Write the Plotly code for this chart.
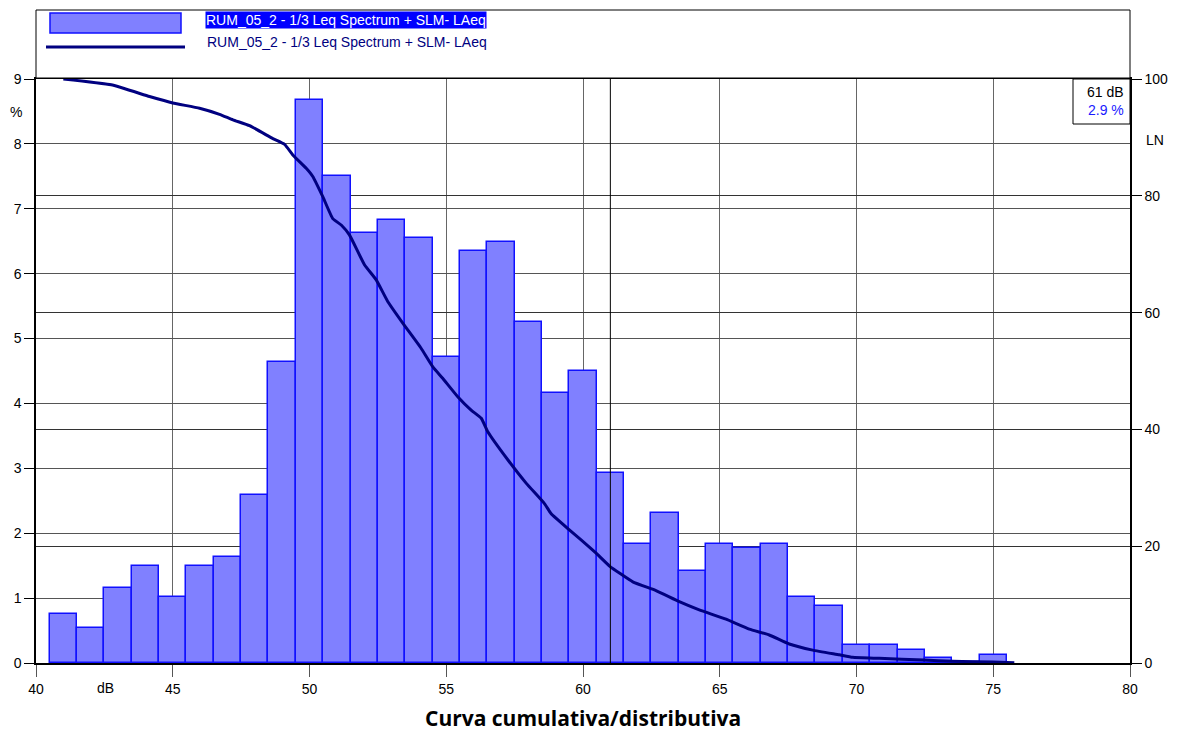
import plotly.graph_objects as go

# Histogram bins (dB, centre of 1 dB class) and percentage of time
bin_db = list(range(41, 76))
bin_pct = [0.75, 0.54, 1.16, 1.50, 1.02, 1.50, 1.64, 2.59, 4.64, 8.67,
           7.50, 6.63, 6.83, 6.55, 4.71, 6.35, 6.49, 5.25, 4.16, 4.50,
           2.93, 1.83, 2.31, 1.42, 1.83, 1.77, 1.83, 1.02, 0.88, 0.28,
           0.28, 0.20, 0.07, 0.02, 0.13]

# Cumulative (LN) curve
ln_db = [41.0, 42.75, 44.15, 45.0, 45.98, 46.71, 47.2, 47.81, 48.66, 49.09,
         49.39, 49.88, 50.12, 50.49, 50.85, 51.16, 51.46, 52.01, 52.44, 52.86,
         53.41, 54.08, 54.51, 54.87, 55.42, 55.91, 56.28, 56.52, 57.25, 57.92,
         58.59, 58.83, 59.5, 59.93, 60.48, 60.97, 61.82, 62.67, 63.52, 64.25,
         65.23, 66.08, 66.81, 67.54, 68.4, 69.37, 69.86, 70.83, 72.48, 73.51,
         74.97, 75.77]
ln_val = [100.0, 99.0, 97.0, 95.9, 95.0, 93.95, 93.0, 92.0, 89.8, 88.8,
          87.0, 84.7, 83.3, 79.8, 76.1, 75.0, 73.3, 68.2, 65.6, 61.9,
          58.2, 53.9, 50.7, 48.75, 45.6, 43.3, 41.9, 39.6, 34.8, 30.8,
          27.3, 25.6, 22.8, 21.1, 18.8, 16.6, 13.9, 12.4, 10.5, 9.1,
          7.5, 5.8, 4.8, 3.25, 2.2, 1.4, 0.97, 0.8, 0.5, 0.3,
          0.17, 0.05]

x_ticks = [40, 45, 50, 55, 60, 65, 70, 75, 80]
y_ticks = [0, 1, 2, 3, 4, 5, 6, 7, 8, 9]
y2_ticks = [0, 20, 40, 60, 80, 100]

legend_label = "RUM_05_2 - 1/3 Leq Spectrum + SLM- LAeq"
cursor_db = 61
cursor_text_db = "61 dB"
cursor_text_pct = "2.9 %"
title_text = "Curva cumulativa/distributiva"

FONT = "Liberation Sans, Arial, sans-serif"
OFF = 8  # page body margin offset
W, H = 1171, 728
L, R, T, B = 28, 49, 71, 73
PW = W - L - R
PH = H - T - B


def px(x):
    return (x - OFF - L) / PW


def py(y):
    return (H - B - (y - OFF)) / PH


fig = go.Figure()
fig.add_trace(go.Bar(
    x=bin_db, y=bin_pct, width=1.0,
    marker=dict(color="rgb(128,128,255)", line=dict(color="#1010ff", width=1.5)),
    name=legend_label, showlegend=False, yaxis="y"))
fig.add_trace(go.Scatter(
    x=ln_db, y=ln_val, mode="lines", yaxis="y2",
    line=dict(color="#000080", width=3, shape="spline", smoothing=0.4),
    name=legend_label, showlegend=False))

shapes = []
# cursor line
shapes.append(dict(type="line", xref="x", yref="paper", x0=cursor_db, x1=cursor_db,
                   y0=0, y1=1, line=dict(color="black", width=1), layer="above"))
# cursor box
shapes.append(dict(type="rect", xref="paper", yref="paper",
                   x0=px(1073), x1=1, y0=py(124), y1=1,
                   line=dict(color="black", width=1), fillcolor="white", layer="above"))
# legend box
shapes.append(dict(type="rect", xref="paper", yref="paper",
                   x0=0, x1=1, y0=py(78), y1=py(10),
                   line=dict(color="black", width=1), fillcolor="white"))
# legend swatches
shapes.append(dict(type="rect", xref="paper", yref="paper",
                   x0=px(50), x1=px(181), y0=py(33), y1=py(13),
                   line=dict(color="#1010ff", width=1.5), fillcolor="rgb(128,128,255)"))
shapes.append(dict(type="line", xref="paper", yref="paper",
                   x0=px(46), x1=px(185), y0=py(47), y1=py(47),
                   line=dict(color="#000080", width=3)))

annotations = [
    dict(text=legend_label, xref="paper", yref="paper", x=px(205), y=py(20),
         xanchor="left", yanchor="middle", showarrow=False,
         font=dict(family=FONT, size=14, color="white"), bgcolor="#0000ff", borderpad=0),
    dict(text=legend_label, xref="paper", yref="paper", x=px(205), y=py(42),
         xanchor="left", yanchor="middle", showarrow=False,
         font=dict(family=FONT, size=14, color="#000080")),
    dict(text=cursor_text_db, xref="paper", yref="paper", x=px(1126), y=py(92),
         xanchor="right", yanchor="middle", showarrow=False,
         font=dict(family=FONT, size=14, color="black")),
    dict(text=cursor_text_pct, xref="paper", yref="paper", x=px(1126), y=py(110),
         xanchor="right", yanchor="middle", showarrow=False,
         font=dict(family=FONT, size=14, color="#1a1aff")),
    dict(text="%", xref="paper", yref="paper", x=px(16), y=py(112),
         xanchor="center", yanchor="middle", showarrow=False,
         font=dict(family=FONT, size=14, color="black")),
    dict(text="LN", xref="paper", yref="paper", x=px(1155), y=py(140),
         xanchor="center", yanchor="middle", showarrow=False,
         font=dict(family=FONT, size=14, color="black")),
    dict(text="dB", xref="paper", yref="paper", x=px(105), y=py(688),
         xanchor="center", yanchor="middle", showarrow=False,
         font=dict(family=FONT, size=14, color="black")),
    dict(text="<b>" + title_text + "</b>", xref="paper", yref="paper", x=px(583), y=py(718),
         xanchor="center", yanchor="middle", showarrow=False,
         font=dict(family="Open Sans, Noto Sans, sans-serif", size=21, color="black")),
]

fig.update_layout(
    width=W, height=H,
    margin=dict(l=L, r=R, t=T, b=B, pad=0, autoexpand=False),
    paper_bgcolor="white", plot_bgcolor="white",
    bargap=0, showlegend=False,
    font=dict(family=FONT, size=14, color="black"),
    xaxis=dict(range=[40, 80], tickvals=x_ticks, ticks="outside", ticklen=12,
               tickcolor="#555", showline=True, linecolor="black", linewidth=1.5,
               mirror=True, showgrid=True, gridcolor="#666", gridwidth=1.2,
               zeroline=False, tickfont=dict(size=14), automargin=False),
    yaxis=dict(range=[0, 9], tickvals=y_ticks, ticks="outside", ticklen=10,
               tickcolor="black", showline=True, linecolor="black", linewidth=1.5,
               showgrid=True, gridcolor="#555", gridwidth=1.2, zeroline=False,
               tickfont=dict(size=14), automargin=False),
    yaxis2=dict(range=[0, 100], tickvals=y2_ticks, ticks="outside", ticklen=10,
                tickcolor="black", overlaying="y", side="right", showline=True,
                linecolor="black", linewidth=1.5, showgrid=True, gridcolor="#333",
                gridwidth=1, zeroline=False, tickfont=dict(size=14), automargin=False),
    shapes=shapes, annotations=annotations,
)

fig.write_html("out.html")
